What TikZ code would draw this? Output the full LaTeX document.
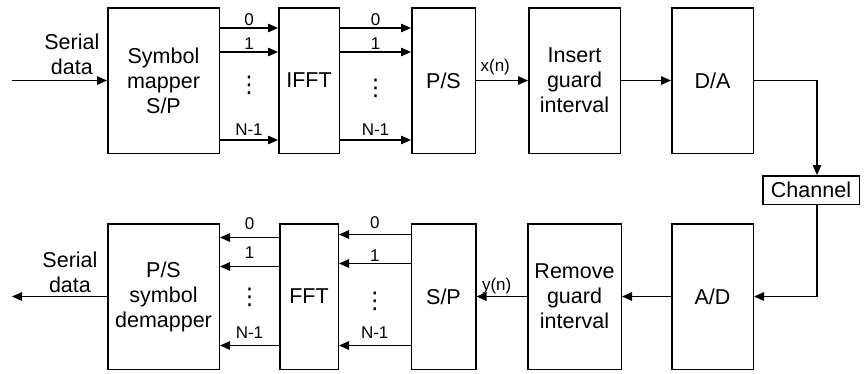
\documentclass[tikz,border=0pt]{standalone}
\usepackage{fontspec}
\setmainfont{Liberation Sans}
\newfontfamily\dotfont{DejaVu Sans}
\usetikzlibrary{arrows.meta,positioning}

\begin{document}
\begin{tikzpicture}[
  node distance=69pt,
  blk/.style={rectangle, draw=black, line width=1.5pt, minimum height=145.5pt,
              align=center, inner sep=2pt, font=\fontsize{21.5}{25}\selectfont},
  chbox/.style={rectangle, draw=black, line width=1.5pt, minimum width=96.5pt,
              minimum height=28.5pt, inner sep=2pt, font=\fontsize{21.5}{25}\selectfont},
  side/.style={inner sep=0pt, align=center, font=\fontsize{21.5}{25}\selectfont},
  lbl/.style={inner sep=0pt, font=\fontsize{17}{20}\selectfont},
  dotcol/.style={inner sep=0pt, font=\dotfont\fontsize{23}{23}\selectfont},
  arr/.style={-{Triangle[length=10pt,width=8.5pt]}, line width=1.5pt}
]
\useasboundingbox (0,0) rectangle (864pt,-373pt);
% transmitter
\node[blk, minimum width=111.5pt] (map) at (163.5pt,-80.5pt) {Symbol\\mapper\\S/P};
\node[blk, minimum width=60.5pt, right=58pt of map] (ifft) {IFFT};
\node[blk, minimum width=63.5pt, right=71pt of ifft] (ps) {P/S};
\node[blk, minimum width=91.5pt, right=52pt of ps] (ins) {Insert\\guard\\interval};
\node[blk, minimum width=81.5pt, right=50pt of ins] (da) {D/A};
% channel
\node[chbox] (chan) at (811pt,-190pt) {Channel};
% receiver
\node[blk, minimum width=111.5pt, below=of map] (demap) {P/S\\symbol\\demapper};
\node[blk, minimum width=58.5pt, below=of ifft] (fft) {FFT};
\node[blk, minimum width=64.5pt, below=of ps] (sp) {S/P};
\node[blk, minimum width=93.5pt, below=of ins] (rem) {Remove\\guard\\interval};
\node[blk, minimum width=81.5pt, below=of da] (ad) {A/D};

\coordinate[left=95pt of map.west] (sin);
\coordinate[left=95pt of demap.west] (sout);

\draw[arr] (sin) -- (map.west) node[side, pos=0.63, above=5pt] {Serial\\data};
\foreach \dy/\lab/\ld in {52.5/0/2, 28.5/1/2, -59.5/N-1/4}{
  \draw[arr] ([yshift=\dy pt]map.east) -- ([yshift=\dy pt]ifft.west)
    node[lbl, midway, above=\ld pt] {\lab};
  \draw[arr] ([yshift=\dy pt]ifft.east) -- ([yshift=\dy pt]ps.west)
    node[lbl, midway, above=\ld pt] {\lab};
}
\path (map.east) -- (ifft.west) node[dotcol, midway, yshift=-4.5pt] (dt1) {⋮};
\path (ifft.east) -- (ps.west) node[dotcol, midway, yshift=-7.5pt] (dt2) {⋮};
\draw[arr] (ps.east) -- (ins.west) node[lbl, pos=0.37, above=4.5pt] {x(n)};
\draw[arr] (ins) -- (da);
\draw[arr] (da.east) -| ([xshift=6pt]chan.north);
\draw[arr] ([xshift=6pt]chan.south) |- (ad.east);

\draw[arr] (ad) -- (rem);
\draw[arr] (rem.west) -- (sp.east) node[lbl, pos=0.6, above=2pt] {y(n)};
\foreach \dy/\lab/\ld in {62/0/5, 33/1/1, -49/N-1/6}
  \draw[arr] ([yshift=\dy pt]sp.west) -- ([yshift=\dy pt]fft.east)
    node[lbl, midway, above=\ld pt] {\lab};
\foreach \dy/\lab/\ld in {59/0/7.5, 30/1/7, -49/N-1/6}
  \draw[arr] ([yshift=\dy pt]fft.west) -- ([yshift=\dy pt]demap.east)
    node[lbl, midway, above=\ld pt] {\lab};
\path (fft.west) -- (demap.east) node[dotcol, midway, yshift=-1pt] (dr1) {⋮};
\path (sp.west) -- (fft.east) node[dotcol, midway, yshift=-5pt] (dr2) {⋮};
\draw[arr] (demap.west) -- (sout) node[side, pos=0.39, above=3.5pt] {Serial\\data};
\end{tikzpicture}
\end{document}
